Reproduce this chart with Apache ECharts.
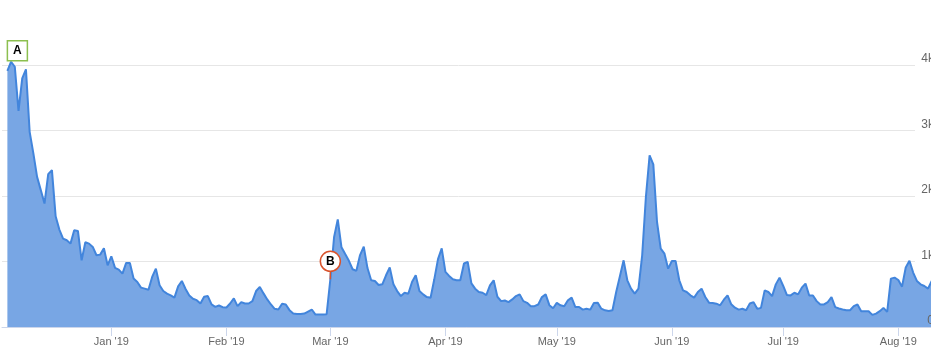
<!DOCTYPE html>
<html>
<head>
<meta charset="utf-8">
<script src="https://cdn.jsdelivr.net/npm/echarts@6/dist/echarts.min.js"></script>
<style>
html,body{margin:0;padding:0;background:#fff;}
#chart{width:931px;height:351px;}
</style>
</head>
<body>
<div id="chart"></div>
<script>
// Daily values starting 2018-12-04
const startDate = [2018, 11, 4];
const values = [
 3912,4050,3973,3300,3795,3933,2980,2650,2292,2090,
 1885,2333,2394,1691,1487,1350,1324,1273,1477,1467,
 1019,1294,1273,1222,1095,1105,1202,942,1080,902,
 876,815,978,978,739,688,601,586,570,764,
 891,637,550,509,484,448,621,703,580,482,
 431,410,359,462,472,344,308,328,303,298,
 359,436,318,380,359,359,395,549,610,513,
 421,344,277,267,354,344,257,205,200,200,
 205,236,267,190,190,190,195,728,1370,1642,
 1216,1113,1011,882,857,1098,1226,900,713,703,
 641,651,790,908,651,549,472,523,508,687,
 790,549,498,457,446,728,1036,1200,841,780,
 728,713,713,970,995,667,585,534,523,487,
 636,713,462,395,405,380,421,472,498,395,
 369,318,318,344,457,498,333,286,368,331,
 316,407,448,305,305,265,280,265,366,372,
 280,255,244,255,534,774,1018,713,585,509,
 585,1094,1985,2621,2484,1603,1196,1120,891,1008,
 1008,713,560,534,484,448,534,585,458,372,
 366,356,331,417,484,346,295,265,278,256,
 359,380,277,292,559,534,472,651,754,626,
 487,482,523,498,600,662,482,482,395,344,
 344,380,457,303,282,267,256,256,318,344,
 241,241,241,185,205,241,292,231,739,754,
 718,616,908,1011,831,703,651,626,585,703
];
const monthNames = ['Jan','Feb','Mar','Apr','May','Jun','Jul','Aug','Sep','Oct','Nov','Dec'];
const yTickLabels = ['0','1k','2k','3k','4k'];
// flags: [label, day index]
const flagA = ['A', 0];
const flagB = ['B', 87];

const DAY = 86400000;
const dates = values.map((v, i) => new Date(startDate[0], startDate[1], startDate[2] + i).getTime());
const seriesData = values.map((v, i) => [dates[i], v]);
const t0 = dates[0];

const chart = echarts.init(document.getElementById('chart'));
const font = "'Liberation Sans', Arial, sans-serif";
chart.setOption({
  animation: false,
  grid: [
    {left: 2, width: 935, top: 65, height: 262, containLabel: false, outerBoundsMode: 'none'},
    {left: 2, width: 913, top: 65, height: 262, containLabel: false, outerBoundsMode: 'none'}
  ],
  xAxis: [
    {
      type: 'time', gridIndex: 0,
      min: t0 - 1.45 * DAY, max: t0 + 250.42 * DAY,
      minInterval: 28 * DAY, maxInterval: 31 * DAY, splitNumber: 8,
      axisLine: {show: true, lineStyle: {color: '#ccd6eb', width: 1}},
      axisTick: {show: true, length: 9, lineStyle: {color: '#ccd6eb'}},
      splitLine: {show: false},
      axisLabel: {
        margin: 9, color: '#666', fontSize: 11, fontFamily: font,
        hideOverlap: false,
        formatter: function (val) {
          const d = new Date(val);
          return monthNames[d.getMonth()] + " '" + String(d.getFullYear()).slice(2);
        }
      }
    },
    {type: 'value', gridIndex: 1, show: false, min: 0, max: 1}
  ],
  yAxis: [
    {type: 'value', gridIndex: 0, min: 0, max: 4000, show: false},
    {type: 'value', gridIndex: 1, min: 0, max: 4000, interval: 1000, position: 'right', z: 0,
     axisLine: {show: false}, axisTick: {show: false}, axisLabel: {show: false},
     splitLine: {show: true, lineStyle: {color: '#e6e6e6', width: 1}}},
    {type: 'value', gridIndex: 1, min: 0, max: 4000, interval: 1000, position: 'right', z: 10,
     axisLine: {show: false}, axisTick: {show: false}, splitLine: {show: false},
     axisLabel: {
       show: true, margin: 19, align: 'right', verticalAlign: 'bottom',
       color: '#666', fontSize: 12, fontFamily: font,
       formatter: function (v) { return yTickLabels[Math.round(v / 1000)]; }
     }}
  ],
  series: [{
    type: 'line',
    xAxisIndex: 0, yAxisIndex: 0,
    data: seriesData,
    showSymbol: false,
    clip: false,
    lineStyle: {color: '#4285dc', width: 2},
    itemStyle: {color: '#4285dc'},
    areaStyle: {color: '#78a6e4', opacity: 1},
    markPoint: {
      z: 20,
      data: [
        {
          coord: [dates[flagA[1]], values[flagA[1]]],
          symbol: 'rect', symbolSize: [20, 20], symbolOffset: [10, -20],
          itemStyle: {color: '#ffffff', borderColor: '#8cbf4f', borderWidth: 1.5},
          label: {show: true, position: 'inside', formatter: flagA[0], color: '#000', fontWeight: 'bold', fontSize: 12, fontFamily: font}
        },
        {
          coord: [dates[flagB[1]], values[flagB[1]]],
          symbol: 'rect', symbolSize: [1.5, 10], symbolOffset: [0, -5],
          itemStyle: {color: '#d9532c'},
          label: {show: false}
        },
        {
          coord: [dates[flagB[1]], values[flagB[1]]],
          symbol: 'circle', symbolSize: 20, symbolOffset: [0, -18],
          itemStyle: {color: '#ffffff', borderColor: '#d9532c', borderWidth: 1.5},
          label: {show: true, position: 'inside', formatter: flagB[0], color: '#000', fontWeight: 'bold', fontSize: 12, fontFamily: font}
        }
      ]
    }
  }]
});
</script>
</body>
</html>
